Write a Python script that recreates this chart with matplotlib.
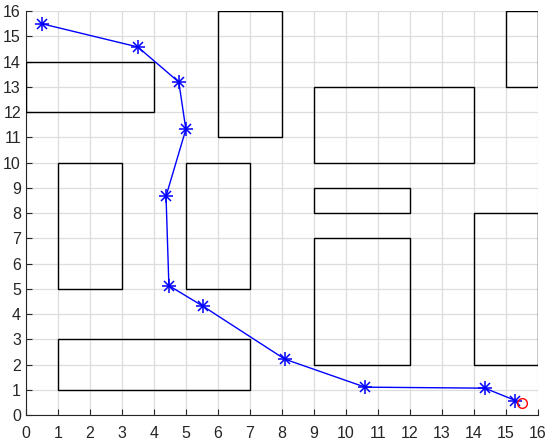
import matplotlib
matplotlib.use("Agg")
import matplotlib.pyplot as plt
from matplotlib.patches import Rectangle

path_x = [0.5, 3.5, 4.78, 5.0, 4.38, 4.47, 5.53, 8.09, 10.6, 14.34, 15.3]
path_y = [15.5, 14.58, 13.19, 11.32, 8.67, 5.13, 4.32, 2.22, 1.11, 1.07, 0.58]
goal = (15.5, 0.5)

# obstacles: (x0, y0, width, height)
obstacles = [
    (0, 12, 4, 2),
    (6, 11, 2, 5),
    (15, 13, 1, 3),
    (9, 10, 5, 3),
    (1, 5, 2, 5),
    (5, 5, 2, 5),
    (9, 8, 3, 1),
    (9, 2, 3, 5),
    (14, 2, 2, 6),
    (1, 1, 6, 2),
]
ticks = list(range(0, 17))

plt.rcParams['font.family'] = ['Liberation Sans', 'DejaVu Sans']
fig = plt.figure(figsize=(5.5, 4.45), dpi=100)
ax = fig.add_axes([0.047, 0.067, 0.931, 0.908])

for (x0, y0, w, h) in obstacles:
    ax.add_patch(Rectangle((x0, y0), w, h, fill=False, edgecolor='black', linewidth=1.0, zorder=3))

ax.plot(path_x, path_y, color='blue', linewidth=1.0, zorder=4)
# MATLAB-style asterisk marker: plus + cross
ax.plot(path_x, path_y, linestyle='none', marker='+', color='blue', markersize=10,
        markeredgewidth=1.1, zorder=4)
ax.plot(path_x, path_y, linestyle='none', marker='x', color='blue', markersize=7.5,
        markeredgewidth=1.1, zorder=4)
ax.plot([goal[0]], [goal[1]], 'o', markerfacecolor='none', markeredgecolor='red',
        markersize=7, markeredgewidth=1.0, zorder=5)

ax.set_xlim(0, 16)
ax.set_ylim(0, 16)
ax.set_xticks(ticks)
ax.set_yticks(ticks)
ax.grid(True, color='#dddddd', linewidth=0.9)
ax.set_axisbelow(True)
ax.spines['top'].set_visible(False)
ax.spines['right'].set_visible(False)
ax.spines['left'].set_color('#262626')
ax.spines['bottom'].set_color('#262626')
ax.tick_params(direction='in', length=4, labelsize=11.5, colors='#262626')
ax.tick_params(axis='x', pad=8)
ax.tick_params(axis='y', pad=3.5)

fig.savefig('out.png', dpi=100)
